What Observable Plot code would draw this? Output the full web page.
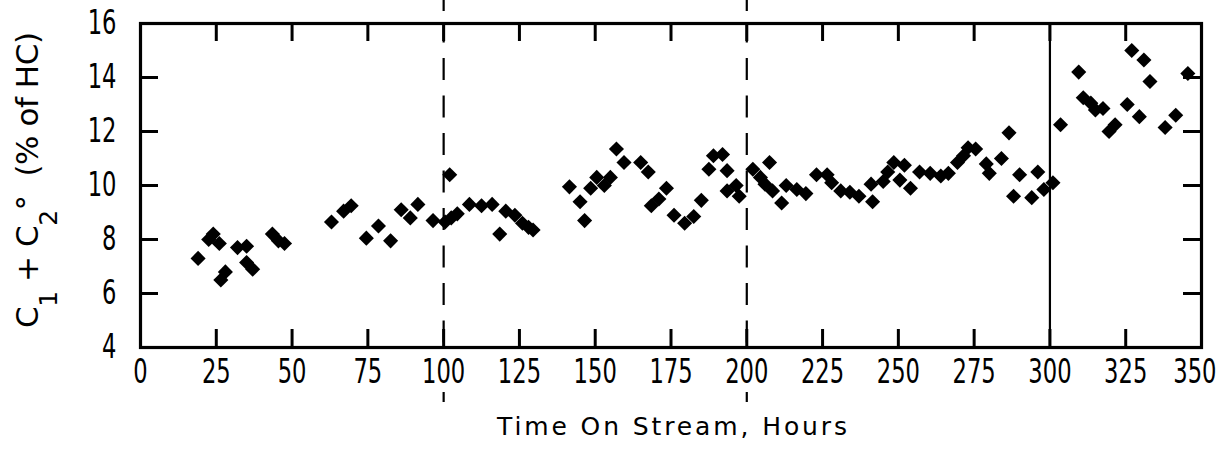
<!DOCTYPE html>
<html><head><meta charset="utf-8">
<script src="https://cdn.jsdelivr.net/npm/d3@7"></script>
<script src="https://cdn.jsdelivr.net/npm/@observablehq/plot@0.6"></script>
<style>
html,body{margin:0;padding:0;background:#fff;}
</style></head><body><div id="chart"></div>
<script>
// Time on stream (hours)
const hours = [
  19, 22.5, 24, 26, 26.5, 28, 32, 35, 35, 37, 43.5, 45.5, 47.5,
  63, 67, 69.5, 74.5, 78.5, 82.5, 86, 89, 91.5, 96.5,
  100.5, 102, 102.5, 104.5, 108.5, 112.5, 116, 118.5, 120.5, 123.5, 126, 128, 129.5,
  141.5, 145, 146.5, 148.5, 150.5, 153, 155, 157, 159.5, 165, 167.5, 168.5, 171, 173.5,
  176, 179.5, 182.5, 185, 187.5, 189, 192, 193.5, 193.5, 196.5, 197.5,
  202, 204.5, 206, 207.5, 208.5, 211.5, 213, 216.5, 219.5, 223, 226.5, 228, 231, 234, 237,
  241.5, 241, 245, 246.5, 248.5, 252, 250.5, 254, 257, 260.5, 264, 266.5, 269.5, 271.5,
  273, 275.5, 279, 280, 284, 286.5, 290, 288, 294, 296, 298, 301,
  303.5, 309.5, 311, 313.5, 315, 317.5, 319.5, 321.5, 325.5, 327, 329.5, 331, 333, 338, 341.5, 345.5
];
// C1 + C2 (% of HC)
const values = [
  7.3, 8.0, 8.2, 7.85, 6.5, 6.8, 7.7, 7.75, 7.15, 6.9, 8.2, 7.95, 7.85,
  8.65, 9.05, 9.25, 8.05, 8.5, 7.95, 9.1, 8.8, 9.3, 8.7,
  8.65, 10.4, 8.8, 8.95, 9.3, 9.25, 9.3, 8.2, 9.05, 8.9, 8.6, 8.45, 8.35,
  9.95, 9.4, 8.7, 9.9, 10.3, 10.0, 10.3, 11.35, 10.85, 10.85, 10.5, 9.25, 9.5, 9.9,
  8.9, 8.6, 8.85, 9.45, 10.6, 11.1, 11.15, 10.55, 9.8, 10.0, 9.6,
  10.6, 10.3, 10.05, 10.85, 9.8, 9.35, 10.0, 9.85, 9.7, 10.4, 10.4, 10.1, 9.8, 9.75, 9.6,
  9.4, 10.05, 10.15, 10.5, 10.85, 10.75, 10.2, 9.9, 10.5, 10.45, 10.35, 10.45, 10.85, 11.1,
  11.4, 11.35, 10.8, 10.45, 11.0, 11.95, 10.4, 9.6, 9.55, 10.5, 9.85, 10.1,
  12.25, 14.2, 13.25, 13.05, 12.8, 12.85, 12.0, 12.25, 13.0, 15.0, 12.55, 14.65, 13.85, 12.15, 12.6, 14.15
];
const xTicks = [0, 25, 50, 75, 100, 125, 150, 175, 200, 225, 250, 275, 300, 325, 350];
const yTicks = [4, 6, 8, 10, 12, 14, 16];
const dashedAt = [100, 200];
const solidAt = [300];
const xLabel = "Time On Stream, Hours";

const data = hours.map((h, i) => ({h, v: values[i]}));

const W = 1221, H = 450, mL = 140, mR = 20, mT = 23, mB = 103;
const innerW = W - mL - mR, innerH = H - mT - mB, tickLen = 18;
const font = "'DejaVu Sans',sans-serif";
const dashStyle = {stroke: "#000", strokeWidth: 2.2};

const plot = Plot.plot({
  width: W, height: H,
  marginLeft: mL, marginRight: mR, marginTop: mT, marginBottom: mB,
  style: {background: "#fff", color: "#000", fontFamily: font, fontSize: "34px"},
  x: {domain: [0, 350]},
  y: {domain: [4, 16]},
  marks: [
    // dashed guides: inside frame, a stub above, a stub below in the label area
    Plot.ruleX(dashedAt, {...dashStyle, strokeDasharray: "22,15.5", strokeDashoffset: 2.5}),
    Plot.ruleX(dashedAt, {...dashStyle, insetTop: -mT, insetBottom: innerH + 12}),
    Plot.ruleX(dashedAt, {...dashStyle, insetTop: innerH + 55, insetBottom: -(mB - 58)}),
    Plot.ruleX(solidAt, {stroke: "#000", strokeWidth: 2.2}),
    Plot.ruleX(xTicks, {insetTop: innerH - tickLen, stroke: "#000", strokeWidth: 3}),
    Plot.ruleX(xTicks, {insetBottom: innerH - tickLen, stroke: "#000", strokeWidth: 3}),
    Plot.ruleY(yTicks, {insetRight: innerW - tickLen, stroke: "#000", strokeWidth: 3}),
    Plot.ruleY(yTicks, {insetLeft: innerW - tickLen, stroke: "#000", strokeWidth: 3}),
    Plot.frame({stroke: "#000", strokeWidth: 3.2}),
    Plot.dot(data, {x: "h", y: "v", symbol: "diamond2", r: 6.8, fill: "#000", stroke: null}),
    Plot.axisX(xTicks, {anchor: "bottom", tickSize: 0, tickPadding: 11, label: null}),
    Plot.axisY(yTicks, {anchor: "left", tickSize: 0, tickPadding: 24, label: null})
  ]
});

const svg = d3.select(plot);
// condense tick labels like the narrow face of the original
svg.selectAll("g[aria-label$='tick label'] text").each(function () {
  const n = this.textContent.trim().length;
  d3.select(this).attr("textLength", n * 14.4).attr("lengthAdjust", "spacingAndGlyphs");
});
// the last x label ends at the right edge of the picture area, as in the original
const xLabs = svg.selectAll("g[aria-label='x-axis tick label'] text").nodes();
if (xLabs.length) d3.select(xLabs[xLabs.length - 1]).attr("text-anchor", "end").attr("dx", 15);

// y-axis label with subscripts
const yl = svg.append("text")
  .attr("transform", "translate(38,180) rotate(-90)")
  .attr("text-anchor", "middle")
  .attr("font-family", font)
  .attr("font-size", 31)
  .attr("fill", "#000")
  .attr("textLength", 296)
  .attr("lengthAdjust", "spacing");
yl.append("tspan").text("C");
yl.append("tspan").attr("dy", 19).attr("font-size", 25).text("1");
yl.append("tspan").attr("dy", -19).text(" + C");
yl.append("tspan").attr("dy", 19).attr("font-size", 25).text("2");
yl.append("tspan").attr("dy", -19).text("°");
yl.append("tspan").text("  (% of HC)");

svg.append("text")
  .attr("x", 672).attr("y", 435)
  .attr("text-anchor", "middle")
  .attr("font-family", font)
  .attr("font-size", 25)
  .attr("fill", "#000")
  .attr("textLength", 350)
  .attr("lengthAdjust", "spacing")
  .text(xLabel);

document.getElementById("chart").appendChild(plot);
</script>
</body></html>
